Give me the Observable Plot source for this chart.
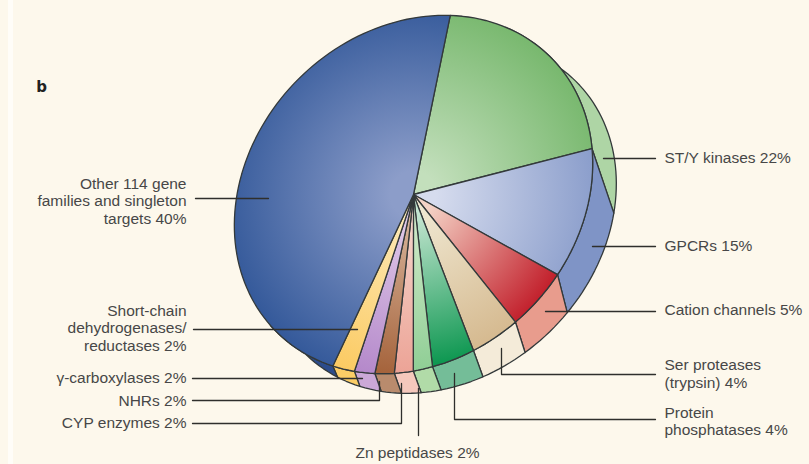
<!DOCTYPE html>
<html>
<head>
<meta charset="utf-8">
<script src="https://cdn.jsdelivr.net/npm/d3@7"></script>
<script src="https://cdn.jsdelivr.net/npm/@observablehq/plot@0.6"></script>
<style>
  html, body { margin: 0; background: #fff; }
  #panel { position: relative; width: 809px; height: 464px; background: #fdf8ec; overflow: hidden; }
  #panel::before { content: ""; position: absolute; left: 8px; top: 0; width: 5px; height: 464px; background: #fffdf8; }
  #panel svg { position: absolute; left: 0; top: 0; background: transparent; }
</style>
</head>
<body>
<div id="panel"></div>
<script>
// Drug-target families, clockwise from the top of the pie.
const categories = ["ST/Y kinases", "GPCRs", "Cation channels", "Ser proteases (trypsin)",
  "Protein phosphatases", "Zn peptidases", "CYP enzymes", "NHRs", "γ-carboxylases",
  "Short-chain dehydrogenases/reductases", "Other 114 gene families and singleton targets"];
const shares = [22, 15, 5, 4, 4, 2, 2, 2, 2, 2, 40];

// Slice colours: centre of the face, rim of the face, side wall.
const faceInner = ["#c3dfbc", "#d6dcee", "#f4d3c6", "#efe7d0", "#c4e5d0", "#d2eaca", "#f5d5cb", "#d8b59c", "#e0cbe9", "#fdeab8", "#8c9dc9"];
const faceOuter = ["#78b86e", "#8a9dcb", "#c21f2b", "#d5b98f", "#0b964f", "#8fce95", "#eca396", "#a4623a", "#b488ca", "#fbca62", "#34599a"];
const wallFill  = ["#aed5a5", "#7f94c6", "#e89c8d", "#f4ebd9", "#74bd98", "#b1dba8", "#f5c8bc", "#b98b6d", "#cba8d7", "#fbcd66", "#2c4c8c"];

// Label text and its place in the frame.
const labelsLeft = [
  { text: "Other 114 gene\nfamilies and singleton\ntargets 40%", y: 200 },
  { text: "Short-chain\ndehydrogenases/\nreductases 2%", y: 327 },
  { text: "γ-carboxylases 2%", y: 377 },
  { text: "NHRs 2%", y: 400 },
  { text: "CYP enzymes 2%", y: 422 }
];
const labelsRight = [
  { text: "ST/Y kinases 22%", y: 157 },
  { text: "GPCRs 15%", y: 245 },
  { text: "Cation channels 5%", y: 309 },
  { text: "Ser proteases\n(trypsin) 4%", y: 373 },
  { text: "Protein\nphosphatases 4%", y: 420.5 }
];
const labelsBelow = [{ text: "Zn peptidases 2%", y: 452 }];

// Leader lines from each label into its slice.
const leaders = [
  [[195, 198], [268, 198]],
  [[193, 329], [357, 329]],
  [[192, 378], [362, 378]],
  [[192, 400], [379, 400], [379, 381]],
  [[192, 423], [401, 423], [401, 383]],
  [[418, 435], [418, 388]],
  [[655, 419], [454, 419], [454, 373]],
  [[655, 374], [501, 374], [501, 348]],
  [[655, 311], [545, 311]],
  [[655, 246], [592, 246]],
  [[655, 158], [603, 158]]
];

// Tilted-disc view: the face is an ellipse around the hub, the outer wall a shifted copy of it.
const rad = Math.PI / 180;
const hub = { x: 413, y: 194 };
const tilt = 45 * rad;
const major = [Math.sin(tilt), -Math.cos(tilt)];
const minor = [Math.cos(tilt), Math.sin(tilt)];
const disc = (u, a, b, dx, dy) => ({
  x: hub.x + dx + a * Math.cos(u * rad) * major[0] + b * Math.sin(u * rad) * minor[0],
  y: hub.y + dy + a * Math.cos(u * rad) * major[1] + b * Math.sin(u * rad) * minor[1]
});
const face = (u) => disc(u, 194, 163, 0, 0);
const wall = (u) => disc(u, 192, 158, 27, 23);

// Share of the turn to angle on the disc, with the foreshortening of the view.
const viewAngle = (t) => t - 49 + 9 * Math.cos((t - 5) * rad) + 2.5 * Math.cos(4 * (t - 80) * rad);
// The wall's seams fan out towards the ends of the visible side.
const wallStart = -19;
const wallEnd = 183;
const wallAngle = (u) => u <= wallStart ? -12 : u + 5 + 0.0016 * (u - 110) ** 2;
const arc = (fn, from, to) => {
  const n = Math.max(1, Math.ceil(Math.abs(to - from) / 2));
  return d3.range(n + 1).map((i) => fn(from + (to - from) * i / n));
};

let running = 0;
const slices = shares.map((share, i) => {
  const u0 = viewAngle(running * 3.6);
  running += share;
  const u1 = viewAngle(running * 3.6);
  return { i, name: categories[i], u0, u1 };
});

const faces = slices.map((s) => {
  const rim = arc(face, s.u0, s.u1);
  return { ...s, pts: [hub, ...rim, hub],
    reach: d3.max(rim, (p) => Math.hypot(p.x - hub.x, p.y - hub.y)) };
});
const walls = slices.map((s) => {
  const from = Math.max(s.u0, wallStart), to = Math.min(s.u1, wallEnd);
  const outer = arc(wall, wallAngle(from), wallAngle(to));
  const inner = arc(face, to, from);
  return { ...s, pts: [...outer, ...inner, outer[0]] };
});

// Radial shading for every face, centred on the hub.
const shading = (index, { x, y }) => {
  const defs = d3.create("svg:defs");
  faces.forEach((f) => {
    const g = defs.append("radialGradient")
      .attr("id", `face-${f.i}`)
      .attr("gradientUnits", "userSpaceOnUse")
      .attr("cx", x(hub.x)).attr("cy", y(hub.y)).attr("r", f.reach);
    g.append("stop").attr("offset", 0.12).attr("stop-color", faceInner[f.i]);
    g.append("stop").attr("offset", 1).attr("stop-color", faceOuter[f.i]);
  });
  return defs.node();
};

const ink = "#33393a";
const type = { fontFamily: "Liberation Sans, Arial, sans-serif", fontSize: 15.5, fill: "#474747", lineHeight: 1.14, stroke: null };
const outline = { x: "x", y: "y", stroke: ink, strokeWidth: 1.3, strokeLinejoin: "round" };

const chart = Plot.plot({
  width: 809,
  height: 464,
  margin: 0,
  x: { axis: null, domain: [0, 809], range: [0, 809] },
  y: { axis: null, domain: [0, 464], range: [0, 464] },
  marks: [
    shading,
    ...walls.map((w) => Plot.line(w.pts, { ...outline, fill: wallFill[w.i] })),
    ...faces.map((f) => Plot.line(f.pts, { ...outline, fill: `url(#face-${f.i})` })),
    ...leaders.map((pts) => Plot.line(pts, { x: (d) => d[0], y: (d) => d[1], stroke: "#2f2f2c", strokeWidth: 1.3 })),
    Plot.text(labelsLeft, { x: () => 186, y: "y", text: "text", textAnchor: "end", ...type }),
    Plot.text(labelsRight, { x: () => 664, y: "y", text: "text", textAnchor: "start", ...type }),
    Plot.text(labelsBelow, { x: () => 417, y: "y", text: "text", textAnchor: "middle", ...type }),
    Plot.text(["b"], { x: () => 41, y: () => 87, text: (d) => d, textAnchor: "middle",
      fontFamily: "DejaVu Sans, sans-serif", fontWeight: "bold", fontSize: 15, fill: "#222" })
  ]
});
document.getElementById("panel").append(chart);
</script>
</body>
</html>
